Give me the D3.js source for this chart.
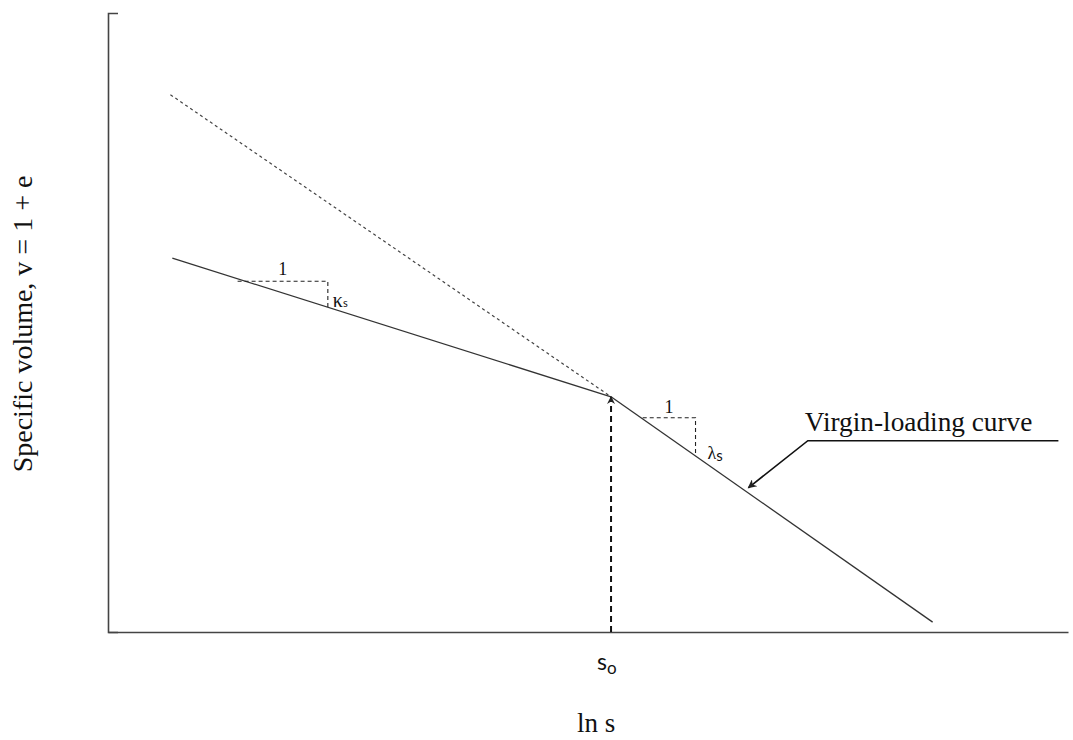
<!DOCTYPE html>
<html>
<head>
<meta charset="utf-8">
<script src="https://cdn.jsdelivr.net/npm/d3@7/dist/d3.min.js"></script>
<style>
  html, body { margin: 0; padding: 0; background: #fff; }
  svg { display: block; }
</style>
</head>
<body>
<svg id="chart" width="1073" height="740"></svg>
<script>
// Idealised v – ln s diagram: swelling (κs) and virgin-loading (λs) lines
// Abscissa: ln s (arbitrary units), ordinate: specific volume v (arbitrary units)
const swellingLnS = [0.67, 5.24];
const swellingV   = [6.04, 3.80];
const virginLnS   = [5.24, 8.59];
const virginV     = [3.80, 0.16];
const virginExtLnS = [0.65, 5.24];   // dashed backward extension of virgin line
const virginExtV   = [8.68, 3.80];
const s0 = 5.24;                     // yield suction
const kappaRun  = [1.35, 2.29];      // slope triangle on swelling line
const lambdaRun = [5.57, 6.12];      // slope triangle on virgin line
const calloutLnS = [6.67, 7.29, 9.90]; // arrow tip, elbow, end of label underline
const calloutV   = [2.33, 3.09, 3.09];

const svg = d3.select("#chart");
const x = d3.scaleLinear().domain([0, 10]).range([108, 1068]);
const y = d3.scaleLinear().domain([0, 10]).range([632, 13]);

const ink = "#333";
const serif = "'Liberation Serif', 'Times New Roman', serif";
const sans = "Lato, 'Liberation Sans', sans-serif";

// arrowhead markers
const defs = svg.append("defs");
defs.append("marker").attr("id", "head").attr("viewBox", "0 0 10 10")
  .attr("refX", 9).attr("refY", 5).attr("markerWidth", 12).attr("markerHeight", 9)
  .attr("markerUnits", "userSpaceOnUse").attr("orient", "auto")
  .append("path").attr("d", "M0,0L10,5L0,10L3,5Z").attr("fill", "#222");
defs.append("marker").attr("id", "smallhead").attr("viewBox", "0 0 10 10")
  .attr("refX", 9).attr("refY", 5).attr("markerWidth", 10).attr("markerHeight", 8)
  .attr("markerUnits", "userSpaceOnUse").attr("orient", "auto")
  .append("path").attr("d", "M0,0L10,5L0,10L3,5Z").attr("fill", "#222");

// axes (no tick labels)
svg.append("g").attr("transform", `translate(${x(0)},0)`)
  .call(d3.axisRight(y).tickValues([]).tickSizeOuter(10))
  .call(g => g.select(".domain").attr("stroke", "#444").attr("stroke-width", 1.6));
svg.append("g").attr("transform", `translate(0,${y(0)})`)
  .call(d3.axisBottom(x).tickValues([]).tickSizeOuter(0))
  .call(g => g.select(".domain").attr("stroke", "#444").attr("stroke-width", 1.6));

const line = d3.line().x(d => x(d[0])).y(d => y(d[1]));
const pts = (xs, vs) => xs.map((d, i) => [d, vs[i]]);

// dashed backward extension of the virgin line
svg.append("path").attr("d", line(pts(virginExtLnS, virginExtV)))
  .attr("fill", "none").attr("stroke", "#444").attr("stroke-width", 1.2)
  .attr("stroke-dasharray", "3,3");

// swelling and virgin lines
svg.append("path").attr("d", line(pts(swellingLnS, swellingV)))
  .attr("fill", "none").attr("stroke", ink).attr("stroke-width", 1.3);
svg.append("path").attr("d", line(pts(virginLnS, virginV)))
  .attr("fill", "none").attr("stroke", ink).attr("stroke-width", 1.3);

// dashed vertical at s0 with arrow up to the yield point
svg.append("path").attr("d", line([[s0, 0], [s0, swellingV[1]]]))
  .attr("fill", "none").attr("stroke", "#111").attr("stroke-width", 2)
  .attr("stroke-dasharray", "6,4").attr("marker-end", "url(#smallhead)");

// slope triangles
const kSlope = (swellingV[1] - swellingV[0]) / (swellingLnS[1] - swellingLnS[0]);
const lSlope = (virginV[1] - virginV[0]) / (virginLnS[1] - virginLnS[0]);
const vOnSwelling = s => swellingV[0] + (s - swellingLnS[0]) * kSlope;
const vOnVirgin = s => virginV[0] + (s - virginLnS[0]) * lSlope;

const kTop = vOnSwelling(kappaRun[0]) - 0.04;
svg.append("path")
  .attr("d", line([[kappaRun[0], kTop], [kappaRun[1], kTop], [kappaRun[1], vOnSwelling(kappaRun[1])]]))
  .attr("fill", "none").attr("stroke", "#222").attr("stroke-width", 1.1)
  .attr("stroke-dasharray", "4,3");
const lTop = vOnVirgin(lambdaRun[0]) + 0.02;
svg.append("path")
  .attr("d", line([[lambdaRun[0], lTop], [lambdaRun[1], lTop], [lambdaRun[1], vOnVirgin(lambdaRun[1])]]))
  .attr("fill", "none").attr("stroke", "#222").attr("stroke-width", 1.1)
  .attr("stroke-dasharray", "4,3");

// triangle labels
svg.append("text").attr("x", x(d3.mean(kappaRun))).attr("y", y(kTop) - 6)
  .attr("text-anchor", "middle").attr("font-family", serif).attr("font-size", 18)
  .attr("fill", "#111").text("1");
svg.append("text").attr("x", x(kappaRun[1]) + 5).attr("y", y(kTop) + 26)
  .attr("font-family", serif).attr("font-size", 20).attr("fill", "#111")
  .call(t => { t.append("tspan").text("κ"); t.append("tspan").attr("font-size", 11).attr("font-family", sans).text("s"); });
svg.append("text").attr("x", x(d3.mean(lambdaRun))).attr("y", y(lTop) - 5)
  .attr("text-anchor", "middle").attr("font-family", serif).attr("font-size", 18)
  .attr("fill", "#111").text("1");
svg.append("text").attr("x", x(lambdaRun[1]) + 12).attr("y", y(lTop) + 41)
  .attr("font-family", serif).attr("font-size", 18).attr("fill", "#111")
  .call(t => { t.append("tspan").text("λ"); t.append("tspan").attr("font-size", 15).attr("font-family", sans).attr("dy", 2).text("s"); });

// callout for the virgin-loading curve
svg.append("path").attr("d", line([[calloutLnS[2], calloutV[2]], [calloutLnS[1], calloutV[1]], [calloutLnS[0], calloutV[0]]]))
  .attr("fill", "none").attr("stroke", "#111").attr("stroke-width", 1.6)
  .attr("marker-end", "url(#head)");
svg.append("text").attr("x", x(calloutLnS[1]) - 3).attr("y", y(calloutV[1]) - 10)
  .attr("font-family", serif).attr("font-size", 27.3).attr("fill", "#111")
  .text("Virgin-loading curve");

// axis labels
svg.append("text").attr("x", x(s0) - 14).attr("y", 670)
  .attr("font-family", sans).attr("font-size", 23).attr("fill", "#111")
  .call(t => { t.append("tspan").text("s"); t.append("tspan").attr("font-size", 17).attr("dy", 4).text("o"); });
svg.append("text").attr("x", x(s0) - 15).attr("y", 732)
  .attr("text-anchor", "middle").attr("font-family", serif).attr("font-size", 27)
  .attr("fill", "#111").text("ln s");
svg.append("text").attr("transform", "translate(32,324) rotate(-90)")
  .attr("text-anchor", "middle").attr("font-family", serif).attr("font-size", 28)
  .attr("fill", "#111").text("Specific volume, v = 1 + e");
</script>
</body>
</html>
